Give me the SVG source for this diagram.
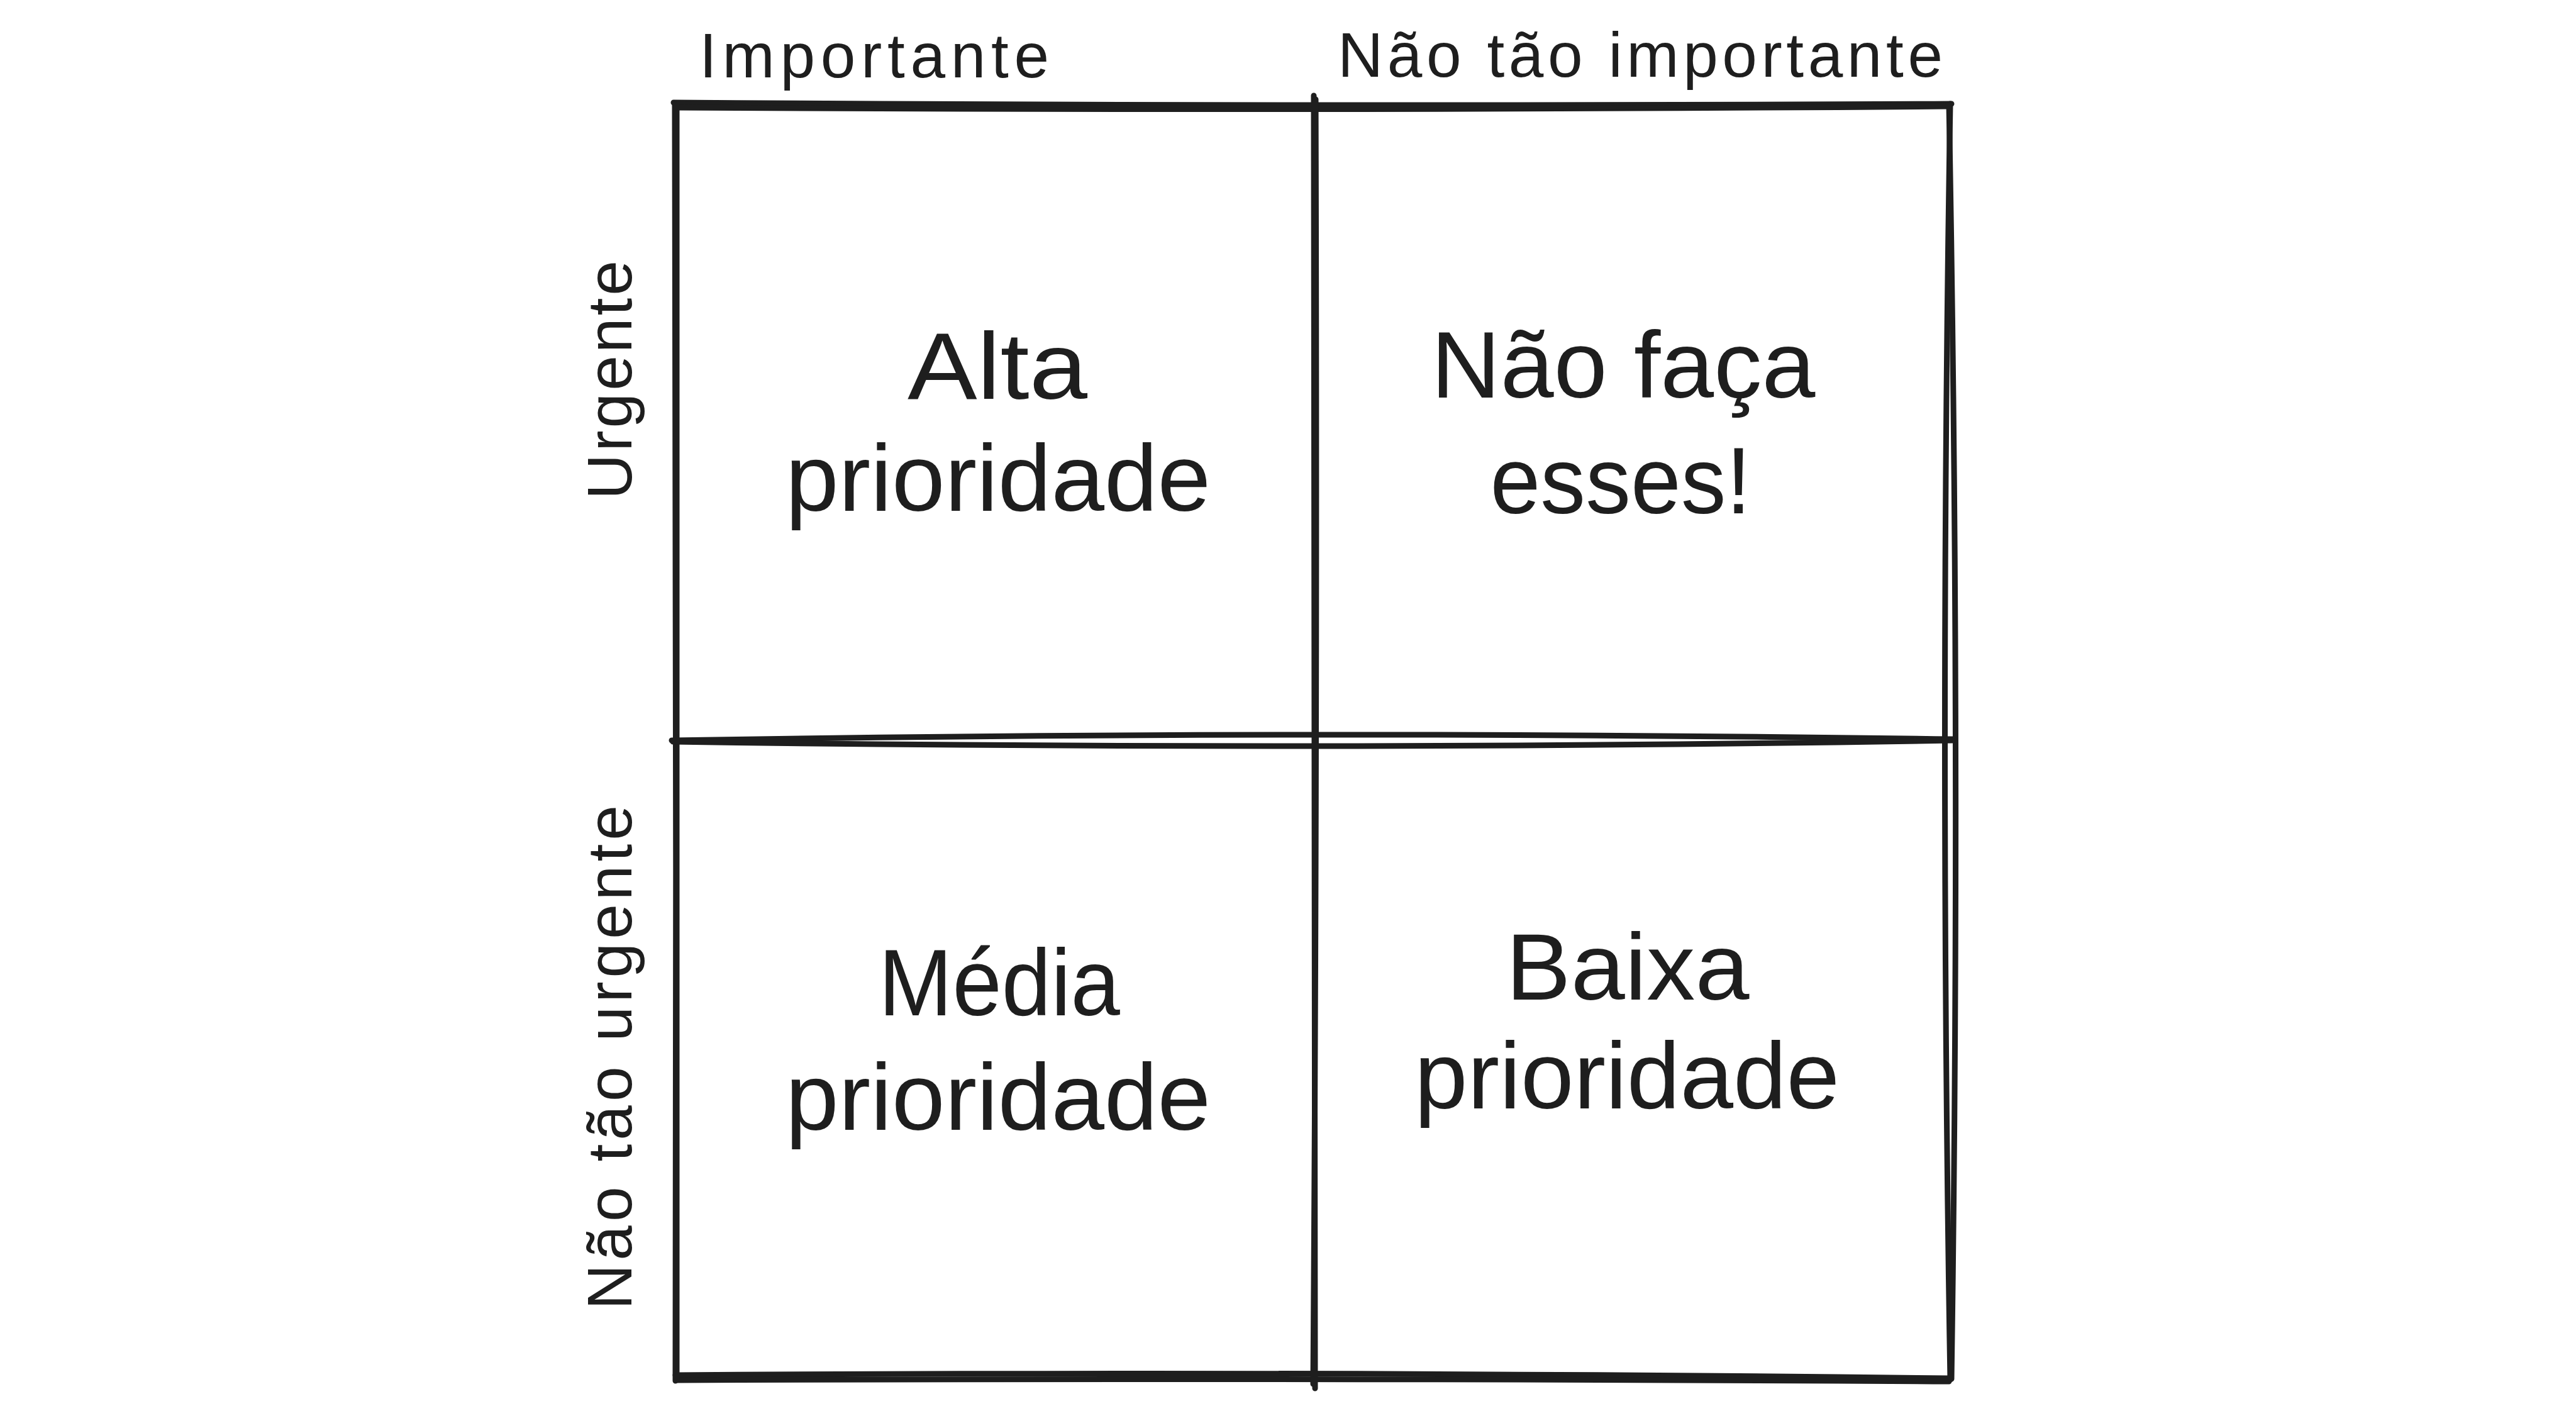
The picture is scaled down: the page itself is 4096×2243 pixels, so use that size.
<svg xmlns="http://www.w3.org/2000/svg" width="4096" height="2243" viewBox="0 0 4096 2243">
  <style>
    .ln { fill: none; stroke: #1e1e1e; stroke-width: 9; stroke-linecap: round; stroke-linejoin: round; }
    .big { font-family: "Liberation Sans", Arial, sans-serif; font-size: 150px; fill: #1e1e1e; text-anchor: middle; }
    .lbl { font-family: "Liberation Sans", Arial, sans-serif; font-size: 100px; fill: #1e1e1e; text-anchor: middle; }
  </style>
  <rect x="0" y="0" width="4096" height="2243" fill="#ffffff"/>
  <g id="grid">
    <!-- top -->
    <path class="ln" d="M1071 163 Q2080 170 3103 165"/>
    <path class="ln" d="M1074 171 Q2090 177 3099 169"/>
    <!-- bottom -->
    <path class="ln" d="M1074 2186 Q2090 2179 3101 2191"/>
    <path class="ln" d="M1076 2194 Q2090 2190 3099 2196"/>
    <!-- left -->
    <path class="ln" d="M1073 165 Q1076 1180 1074 2195"/>
    <path class="ln" d="M1076 168 Q1073 1180 1076 2190"/>
    <!-- right -->
    <path class="ln" d="M3101 165 Q3084 1178 3101 2193"/>
    <path class="ln" d="M3099 166 Q3118 1178 3103 2192"/>
    <!-- middle vertical -->
    <path class="ln" d="M2089 152 Q2087 1180 2091 2207"/>
    <path class="ln" d="M2092 158 Q2095 1180 2088 2200"/>
    <!-- middle horizontal -->
    <path class="ln" d="M1068 1177 Q2090 1160 3106 1175"/>
    <path class="ln" d="M1070 1179 Q2090 1194 3104 1177"/>
  </g>
  <g id="label-importante">
    <text class="lbl" x="1390" y="123" textLength="556">Importante</text>
  </g>
  <g id="label-nao-tao-importante">
    <text class="lbl" x="2608" y="122" textLength="962">Não tão importante</text>
  </g>
  <g id="label-urgente">
    <text class="lbl" transform="translate(1004 604) rotate(-90)" x="0" y="0" textLength="380">Urgente</text>
  </g>
  <g id="label-nao-tao-urgente">
    <text class="lbl" transform="translate(1004 1681) rotate(-90)" x="0" y="0" textLength="802">Não tão urgente</text>
  </g>
  <g id="q-alta">
    <text class="big" x="1586" y="634" textLength="286" lengthAdjust="spacingAndGlyphs">Alta</text>
    <text class="big" x="1587" y="812" textLength="676" lengthAdjust="spacingAndGlyphs">prioridade</text>
  </g>
  <g id="q-nao-faca">
    <text class="big" x="2581" y="632" textLength="611" lengthAdjust="spacingAndGlyphs">Não faça</text>
    <text class="big" x="2577" y="816" textLength="415" lengthAdjust="spacingAndGlyphs">esses!</text>
  </g>
  <g id="q-media">
    <text class="big" x="1589" y="1614" textLength="384" lengthAdjust="spacingAndGlyphs">Média</text>
    <text class="big" x="1587" y="1796" textLength="676" lengthAdjust="spacingAndGlyphs">prioridade</text>
  </g>
  <g id="q-baixa">
    <text class="big" x="2588" y="1589" textLength="387" lengthAdjust="spacingAndGlyphs">Baixa</text>
    <text class="big" x="2587" y="1762" textLength="676" lengthAdjust="spacingAndGlyphs">prioridade</text>
  </g>
</svg>
